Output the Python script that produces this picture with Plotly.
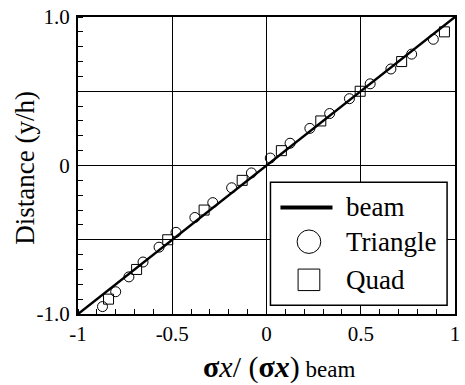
import plotly.graph_objects as go

# ---- data ----
beam_x = [-1.0, 1.0]
beam_y = [-1.0, 1.0]

tri_x = [-0.87, -0.80, -0.73, -0.655, -0.57, -0.48, -0.38, -0.285, -0.185, -0.08,
         0.02, 0.125, 0.23, 0.335, 0.44, 0.55, 0.66, 0.77, 0.885]
tri_y = [-0.95, -0.85, -0.75, -0.65, -0.55, -0.45, -0.35, -0.25, -0.15, -0.05,
         0.05, 0.15, 0.25, 0.35, 0.45, 0.55, 0.65, 0.75, 0.85]

quad_x = [-0.838, -0.689, -0.524, -0.331, -0.129, 0.079, 0.288, 0.497, 0.717, 0.944]
quad_y = [-0.9, -0.7, -0.5, -0.3, -0.1, 0.1, 0.3, 0.5, 0.7, 0.9]

x_tickvals = [-1, -0.5, 0, 0.5, 1]
x_ticktext = ["-1", "-0.5", "0", "0.5", "1"]
y_tickvals = [-1, -0.5, 0, 0.5, 1]
y_ticktext = ["-1.0", "", "0", "", "1.0"]

legend_names = ["beam", "Triangle", "Quad"]

FONT = "Liberation Serif"

fig = go.Figure()
fig.add_trace(go.Scatter(x=beam_x, y=beam_y, mode="lines", name=legend_names[0],
                         line=dict(color="black", width=2.5), showlegend=False))
fig.add_trace(go.Scatter(x=tri_x, y=tri_y, mode="markers", name=legend_names[1],
                         marker=dict(symbol="circle-open", size=10, color="black",
                                     line=dict(width=1, color="black")),
                         showlegend=False))
fig.add_trace(go.Scatter(x=quad_x, y=quad_y, mode="markers", name=legend_names[2],
                         marker=dict(symbol="square-open", size=10, color="black",
                                     line=dict(width=1, color="black")),
                         showlegend=False))

minor = dict(tickmode="linear", tick0=-1, dtick=0.1, ticks="inside", ticklen=5,
             tickwidth=1, tickcolor="black", showgrid=False)

fig.update_xaxes(range=[-1, 1], tickmode="array", tickvals=x_tickvals, ticktext=x_ticktext,
                 showgrid=True, gridcolor="black", gridwidth=1, zeroline=False,
                 showline=True, linecolor="black", linewidth=2, mirror=True,
                 ticks="", ticklabelstandoff=0, minor=minor, ticklabeloverflow="allow",
                 tickfont=dict(family=FONT, size=21, color="black"))
fig.update_yaxes(range=[-1, 1], tickmode="array", tickvals=y_tickvals, ticktext=y_ticktext,
                 showgrid=True, gridcolor="black", gridwidth=1, zeroline=False,
                 showline=True, linecolor="black", linewidth=2, mirror=True,
                 ticks="", ticklabelstandoff=2, minor=minor, ticklabeloverflow="allow",
                 tickfont=dict(family=FONT, size=21, color="black"))

# manual legend (box + samples + labels)
shapes = [
    dict(type="rect", xref="paper", yref="paper", x0=0.5105, x1=0.979, y0=0.0296, y1=0.444,
         line=dict(color="black", width=1.5), fillcolor="white", layer="above"),
    dict(type="line", xref="paper", yref="paper", x0=0.537, x1=0.675, y0=0.3586, y1=0.3586,
         line=dict(color="black", width=4), layer="above"),
    dict(type="circle", xref="paper", yref="paper", x0=0.6126 - 0.0314, x1=0.6126 + 0.0314,
         y0=0.2434 - 0.0395, y1=0.2434 + 0.0395, line=dict(color="black", width=1), layer="above"),
    dict(type="rect", xref="paper", yref="paper", x0=0.6126 - 0.0288, x1=0.6126 + 0.0288,
         y0=0.1151 - 0.0362, y1=0.1151 + 0.0362, line=dict(color="black", width=1), layer="above"),
]
annotations = []
for name, yy in zip(legend_names, [0.3586, 0.2434, 0.1151]):
    annotations.append(dict(text=name, xref="paper", yref="paper", x=0.7068, y=yy,
                            xanchor="left", yanchor="middle", showarrow=False,
                            font=dict(family=FONT, size=27, color="black")))
# y axis title
annotations.append(dict(text="Distance (y/h)", xref="paper", yref="paper",
                        x=-0.14, y=(314 - 164) / 304, xanchor="center", yanchor="middle",
                        textangle=-90, showarrow=False,
                        font=dict(family=FONT, size=27, color="black")))
# x axis title
annotations.append(dict(text="<b>σ</b><i>x</i>/ (<b>σ<i>x</i></b>)<span style='font-size:23px'> beam</span>",
                        xref="paper", yref="paper", x=(203 - 78) / 382, y=(314 - 368) / 304,
                        xanchor="left", yanchor="middle", showarrow=False,
                        font=dict(family=FONT, size=30, color="black")))

fig.update_layout(width=465, height=385, margin=dict(l=78, r=5, t=10, b=71),
                  paper_bgcolor="white", plot_bgcolor="white", showlegend=False,
                  shapes=shapes, annotations=annotations,
                  font=dict(family=FONT, color="black"))

fig.write_html("out.html")
